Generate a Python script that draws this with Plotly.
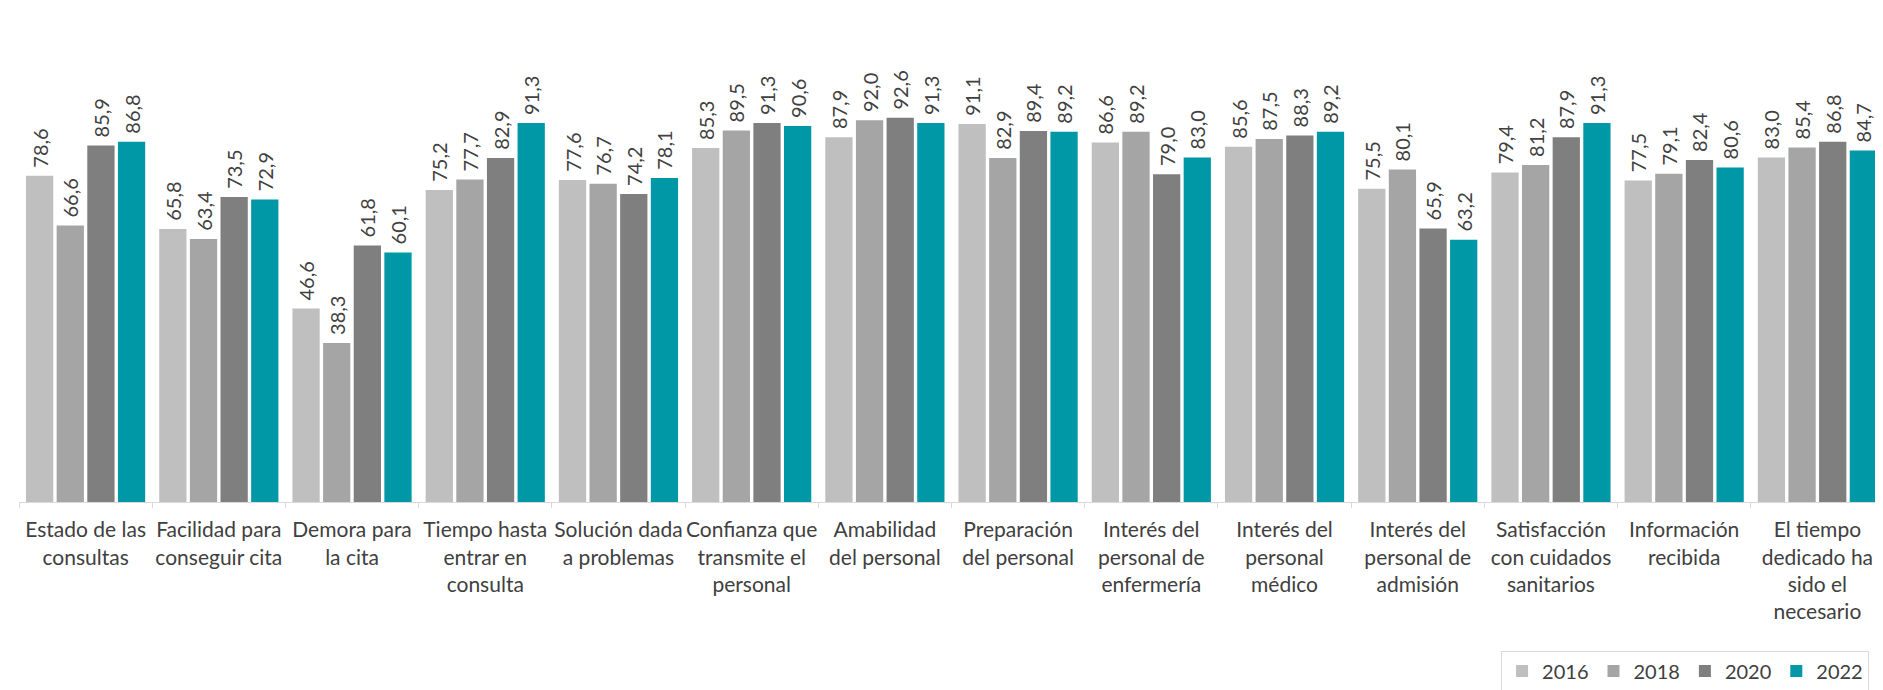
import plotly.graph_objects as go

categories = [
    "Estado de las consultas",
    "Facilidad para conseguir cita",
    "Demora para la cita",
    "Tiempo hasta entrar en consulta",
    "Solución dada a problemas",
    "Confianza que transmite el personal",
    "Amabilidad del personal",
    "Preparación del personal",
    "Interés del personal de enfermería",
    "Interés del personal médico",
    "Interés del personal de admisión",
    "Satisfacción con cuidados sanitarios",
    "Información recibida",
    "El tiempo dedicado ha sido el necesario",
]

tick_labels = [
    "Estado de las<br>consultas",
    "Facilidad para<br>conseguir cita",
    "Demora para<br>la cita",
    "Tiempo hasta<br>entrar en<br>consulta",
    "Solución dada<br>a problemas",
    "Confianza que<br>transmite el<br>personal",
    "Amabilidad<br>del personal",
    "Preparación<br>del personal",
    "Interés del<br>personal de<br>enfermería",
    "Interés del<br>personal<br>médico",
    "Interés del<br>personal de<br>admisión",
    "Satisfacción<br>con cuidados<br>sanitarios",
    "Información<br>recibida",
    "El tiempo<br>dedicado ha<br>sido el<br>necesario",
]

years = ["2016", "2018", "2020", "2022"]

values_2016 = [78.6, 65.8, 46.6, 75.2, 77.6, 85.3, 87.9, 91.1, 86.6, 85.6, 75.5, 79.4, 77.5, 83.0]
values_2018 = [66.6, 63.4, 38.3, 77.7, 76.7, 89.5, 92.0, 82.9, 89.2, 87.5, 80.1, 81.2, 79.1, 85.4]
values_2020 = [85.9, 73.5, 61.8, 82.9, 74.2, 91.3, 92.6, 89.4, 79.0, 88.3, 65.9, 87.9, 82.4, 86.8]
values_2022 = [86.8, 72.9, 60.1, 91.3, 78.1, 90.6, 91.3, 89.2, 83.0, 89.2, 63.2, 91.3, 80.6, 84.7]

series = [values_2016, values_2018, values_2020, values_2022]
colors = ["#BFBFBF", "#A5A5A5", "#7F7F7F", "#0098A6"]

FONT = "Lato"
TEXT_COLOR = "#404040"

fig = go.Figure()
for name, vals, col in zip(years, series, colors):
    fig.add_trace(go.Bar(
        name=name,
        x=categories,
        y=vals,
        marker=dict(color=col, line=dict(width=0)),
        texttemplate="\u00a0%{y:.1f}",
        textposition="outside",
        textangle=-90,
        constraintext="none",
        cliponaxis=False,
        textfont=dict(family=FONT, size=20, color=TEXT_COLOR),
    ))

fig.update_layout(
    width=1883,
    height=690,
    margin=dict(l=11, r=7, t=79, b=187),
    paper_bgcolor="white",
    plot_bgcolor="white",
    barmode="group",
    bargap=0.08,
    bargroupgap=0.11,
    separators=",.",
    font=dict(family=FONT, color=TEXT_COLOR),
    showlegend=True,
    legend=dict(
        orientation="h",
        xref="paper", yref="paper",
        x=0.992, xanchor="right",
        y=-0.358, yanchor="top",
        bordercolor="#D9D9D9",
        borderwidth=1,
        font=dict(family=FONT, size=20, color=TEXT_COLOR),
        itemwidth=30,
        traceorder="normal",
    ),
    xaxis=dict(
        tickmode="array",
        tickvals=categories,
        ticktext=tick_labels,
        tickangle=0,
        showline=True,
        linecolor="#D9D9D9",
        linewidth=1,
        ticks="outside",
        tickson="boundaries",
        ticklen=5,
        tickcolor="#D9D9D9",
        ticklabelstandoff=9,
        tickfont=dict(family=FONT, size=21, color=TEXT_COLOR),
        showgrid=False,
        zeroline=False,
    ),
    yaxis=dict(
        range=[0, 100],
        visible=False,
        showgrid=False,
        zeroline=False,
    ),
)

fig.write_html("out.html")
